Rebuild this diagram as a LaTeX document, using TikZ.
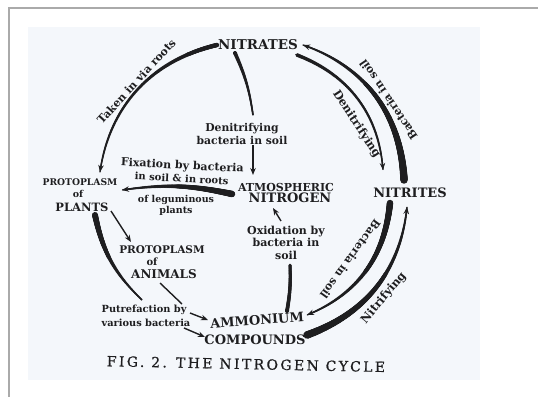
\documentclass[tikz,border=0pt]{standalone}
\usepackage{fontspec}
\setmainfont{DejaVu Serif}
\usetikzlibrary{arrows.meta,calc,decorations.markings}
\definecolor{ink}{RGB}{30,30,32}
\definecolor{scanbg}{RGB}{244,247,251}
\definecolor{framegray}{RGB}{170,170,170}
\newcommand\fsl[2]{\fontsize{#1}{#2}\selectfont\bfseries}
\newcommand\captfont{\fontsize{14}{15}\selectfont\addfontfeature{LetterSpace=17,FakeBold=0.8}}
\tikzset{
  lab/.style={inner sep=1pt, text=ink, align=center},
  thinln/.style={draw=ink, line width=1.4pt},
  arr/.style={-{Stealth[length=7pt,width=5.5pt]}},
  taper/.style 2 args={draw=ink, line width=#2pt, postaction={decorate, decoration={markings, mark=between positions 0 and 1 step 0.6pt with {\pgfmathsetmacro\tpr{0.5*(#1+(#2-#1)*(\pgfkeysvalueof{/pgf/decoration/mark info/distance from start})/(\pgfdecoratedpathlength))}\fill[ink] (0,0) circle[radius=\tpr pt];}}}},
}
\begin{document}
\begin{tikzpicture}[x=1pt,y=1pt]
\useasboundingbox (0,0) rectangle (538,-397);
\fill[white] (0,0) rectangle (538,-397);
\fill[scanbg] (28,-27) rectangle (480,-380);
\draw[framegray, line width=1.2pt] (538,-8) -- (9,-8) -- (9,-397);
\coordinate (C) at (255,-190);

% nodes
\node[lab, font=\fsl{13.5}{14}] (nitrates) at (258,-45) {NITRATES};
\node[lab, font=\fsl{13}{14}] (nitrites) at (410,-193) {NITRITES};
\node[lab, font=\fsl{13}{14}, rotate=4] (ammonium) at (257,-320) {AMMONIUM};
\node[lab, font=\fsl{13}{14}] (compounds) at (255,-340) {COMPOUNDS};
\node[lab, font=\fsl{11}{12}] (atmos) at (286,-187) {ATMOSPHERIC};
\node[lab, font=\fsl{13}{14}] (nitrogen) at (290,-198) {NITROGEN};
\node[lab, font=\fsl{9.2}{10}] (protoP) at (80,-182) {PROTOPLASM};
\node[lab, font=\fsl{9.5}{10}] (ofP) at (78,-194) {of};
\node[lab, font=\fsl{11.5}{12}] (plants) at (82,-207) {PLANTS};
\node[lab, font=\fsl{10.5}{11}] (protoA) at (162,-250) {PROTOPLASM};
\node[lab, font=\fsl{10}{11}] (ofA) at (152,-262) {of};
\node[lab, font=\fsl{12}{13}] (animals) at (164,-274) {ANIMALS};
\node[lab, font=\fsl{10.8}{13}] (denit) at (242,-133.5) {Denitrifying\\bacteria in soil};
\node[lab, font=\fsl{11}{13}, rotate=-3] (fixA) at (182,-171.5) {Fixation by bacteria\\\fontsize{10}{13}\selectfont in soil \& in roots};
\node[lab, font=\fsl{9.5}{11}] (fixB) at (176,-205.5) {of leguminous\\plants};
\node[lab, font=\fsl{11}{12.5}] (oxid) at (286,-242.5) {Oxidation by\\bacteria in\\soil};
\node[lab, font=\fsl{9.8}{14}, align=left] (putre) at (146,-315.5) {Putrefaction by\\various bacteria};
\node[lab, font=\captfont, rotate=-1.2] (caption) at (246,-364) {FIG. 2. THE NITROGEN CYCLE};

% labels set along the arcs
\node[lab, font=\fsl{11}{12}, rotate=47.5] (lbTaken) at ($(C)+(137.5:161pt)$) {Taken in via roots};
\node[lab, font=\fsl{11.5}{12}, rotate=-57] (lbDenit) at ($(C)+(33:121pt)$) {Denitrifying};
\node[lab, font=\fsl{11}{12}, rotate=124] (lbBactO) at ($(C)+(34:161pt)$) {Bacteria in soil};
\node[lab, font=\fsl{11}{12}, rotate=-126] (lbBactI) at ($(C)+(-36:118pt)$) {Bacteria in soil};
\node[lab, font=\fsl{11.5}{12}, rotate=50] (lbNitri) at ($(C)+(-40:168pt)$) {Nitrifying};

% named ends of connectors
\coordinate (tkE) at (100,-172);
\coordinate (dnS) at (235,-53);  \coordinate (dnE) at (253,-115);
\coordinate (dnA) at (253,-145); \coordinate (dnT) at (253,-175);
\coordinate (fxS) at (232,-194); \coordinate (fxE) at (122,-190);
\coordinate (oxS) at (281,-221); \coordinate (oxE) at (273,-208);
\coordinate (amS) at (287,-311); \coordinate (amE) at (290,-265);
\coordinate (plA) at (111,-211); \coordinate (anA) at (131,-242);
\coordinate (lfS) at (95,-215);  \coordinate (lfE) at (142,-300);
\coordinate (anL) at (160,-283); \coordinate (puL) at (182,-304);
\coordinate (pu1S) at (190,-313); \coordinate (pu1E) at (208,-320);
\coordinate (pu2S) at (184,-328); \coordinate (pu2E) at (205,-337);
\coordinate (nfS) at (307,-335); \coordinate (nfE) at (407,-207);
\coordinate (bsS) at (390,-203); \coordinate (bsE) at (307,-315);
\coordinate (boS) at (404,-180); \coordinate (boE) at (303,-45);
\coordinate (deS) at (297,-55);  \coordinate (deE) at (383,-170);

% connectors
\draw[taper={4.5}{1.4}, arr] (nitrates.west) to[bend right=34] (tkE);
\draw[taper={4}{1.6}] (dnS) to[bend left=8] (dnE);
\draw[thinln, arr] (dnA) -- (dnT);
\draw[taper={6.5}{1.5}, arr] (fxS) to[bend right=10] (fxE);
\draw[thinln, arr] (oxS) -- (oxE);
\draw[taper={4}{3}] (amS) to[bend right=6] (amE);
\draw[thinln, arr] (plA) -- (anA);
\draw[taper={6}{1.5}] (lfS) to[bend right=17] (lfE);
\draw[thinln] (anL) -- (puL);
\draw[thinln, arr] (pu1S) -- (pu1E);
\draw[thinln, arr] (pu2S) -- (pu2E);
\draw[taper={7.5}{1.5}, arr] (nfS) to[bend right=32] (nfE);
\draw[taper={6.5}{1.5}, arr] (bsS) to[bend left=31] (bsE);
\draw[taper={7.5}{1.5}, arr] (boS) to[bend right=34] (boE);
\draw[taper={3.8}{1.4}, arr] (deS) to[bend left=32] (deE);
\end{tikzpicture}
\end{document}
